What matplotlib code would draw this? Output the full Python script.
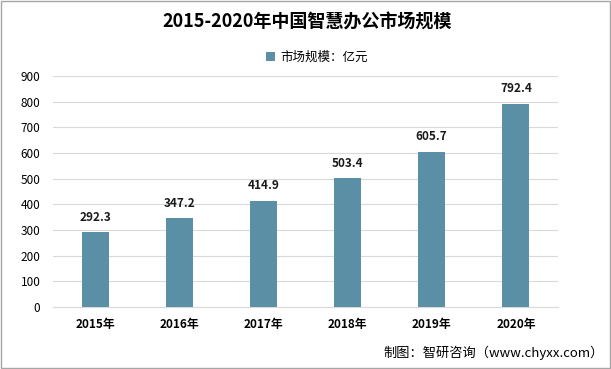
import matplotlib
matplotlib.use('Agg')
import matplotlib.pyplot as plt
from matplotlib.patches import Rectangle

plt.rcParams['font.family'] = ['Noto Sans CJK SC', 'DejaVu Sans']

# 数据
years = ['2015年', '2016年', '2017年', '2018年', '2019年', '2020年']
market_size = [292.3, 347.2, 414.9, 503.4, 605.7, 792.4]
y_ticks = [0, 100, 200, 300, 400, 500, 600, 700, 800, 900]

bar_color = '#5b8fa6'

fig = plt.figure(figsize=(6.11, 3.69), dpi=100)
ax = fig.add_axes([0.0867, 0.168, 0.8265, 0.626])

x = range(len(years))
bars = ax.bar(x, market_size, width=0.32, color=bar_color, zorder=3)

# 数据标签
for xi, v in zip(x, market_size):
    ax.text(xi, v + 32, f'{v}', ha='center', va='bottom', fontsize=8.5, fontweight='bold', color='#1a1a1a')

ax.set_xlim(-0.5, len(years) - 0.5)
ax.set_ylim(0, 900)
ax.set_yticks(y_ticks)
ax.set_xticks(list(x))
ax.set_xticklabels(years, fontsize=8.5, fontweight='bold')
ax.tick_params(axis='y', labelsize=8.5, length=0, pad=9)
ax.tick_params(axis='x', length=0, pad=8)
ax.grid(axis='y', color='#d9d9d9', linewidth=0.8, zorder=0)
for s in ['top', 'right', 'left']:
    ax.spines[s].set_visible(False)
ax.spines['bottom'].set_color('#d9d9d9')

# 标题与图例
fig.text(0.502, 0.94, '2015-2020年中国智慧办公市场规模', ha='center', va='center',
         fontsize=13, fontweight='bold')
fig.legend(handles=[bars], labels=['市场规模：亿元'], loc='center', bbox_to_anchor=(0.519, 0.845),
           frameon=False, fontsize=9, handlelength=0.7, handleheight=0.7, handletextpad=0.4)

# 来源
fig.text(0.988, 0.045, '制图：智研咨询（www.chyxx.com）', ha='right', va='center', fontsize=9.5)

# 外框
fig.patches.append(Rectangle((0.002, 0.004), 0.996, 0.992, transform=fig.transFigure,
                             fill=False, edgecolor='#a6a6a6', linewidth=1))

fig.savefig('out.png', dpi=100)
